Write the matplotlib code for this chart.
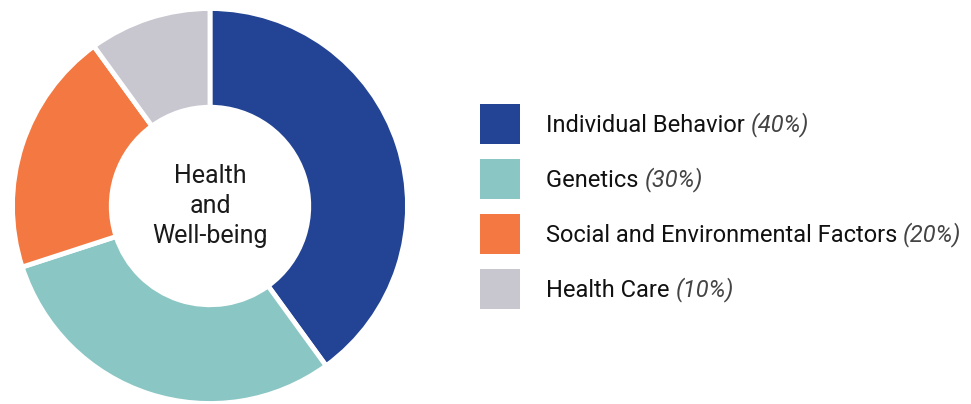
import matplotlib
matplotlib.use("Agg")
import matplotlib.pyplot as plt
from matplotlib.patches import Rectangle

categories = ["Individual Behavior", "Genetics", "Social and Environmental Factors", "Health Care"]
values = [40, 30, 20, 10]
colors = ["#234494", "#89C6C4", "#F37841", "#C8C7D0"]
center_label = "Health\nand\nWell-being"

W, H = 971, 404
fig = plt.figure(figsize=(W / 100, H / 100), dpi=100)
fig.patch.set_facecolor("white")

cx, cy, r = 210, 404 - 206, 197.5
ax = fig.add_axes([(cx - r) / W, (cy - r) / H, 2 * r / W, 2 * r / H])
ax.pie(values, colors=colors, startangle=90, counterclock=False, radius=1,
       wedgeprops=dict(width=0.5, edgecolor="white", linewidth=3.5))
ax.set_xlim(-1, 1)
ax.set_ylim(-1, 1)
ax.set_aspect("equal")
ax.axis("off")
ax.text(0, 0, center_label, ha="center", va="center", fontsize=18,
        family="Roboto", fontweight="normal", color="#1a1a1a", linespacing=1.32)

# legend in a pixel-coordinate overlay axes
lax = fig.add_axes([0, 0, 1, 1])
lax.set_xlim(0, W)
lax.set_ylim(H, 0)
lax.axis("off")
x0, y_top0, sq, step = 480, 104, 40, 55
for i, (cat, val, col) in enumerate(zip(categories, values, colors)):
    top = y_top0 + i * step
    lax.add_patch(Rectangle((x0, top), sq, sq, facecolor=col, edgecolor="none"))
    t = lax.text(546, top + sq / 2 - 1, cat + " ", ha="left", va="center_baseline", fontsize=17,
                 family="Roboto", color="#111111")
    lax.annotate(f"({val}%)", xy=(1, 0), xycoords=t, va="bottom", ha="left",
                 fontsize=17, family="Roboto", style="italic", color="#444444")

fig.savefig("out.png", dpi=100, facecolor="white")
